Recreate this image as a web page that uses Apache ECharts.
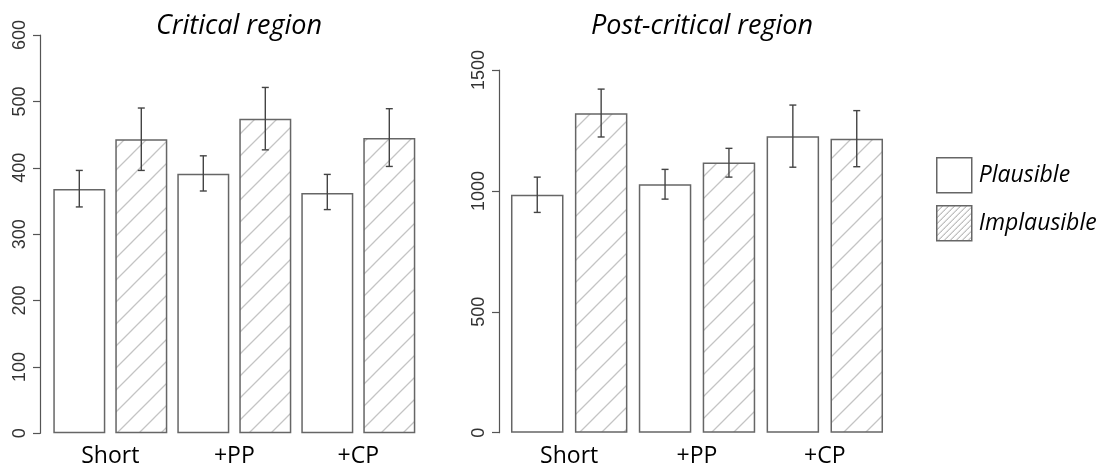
<!DOCTYPE html>
<html>
<head>
<meta charset="utf-8">
<script src="https://cdn.jsdelivr.net/npm/echarts@6/dist/echarts.min.js"></script>
<style>html,body{margin:0;padding:0;background:#fff;}#c{width:1105px;height:470px;}</style>
</head>
<body>
<div id="c"></div>
<script>
// ---- data ----
const categories = ['Short', '+PP', '+CP'];
const seriesNames = ['Plausible', 'Implausible'];
const panelTitles = ['Critical region', 'Post-critical region'];

const critPlausible = [368, 391, 362];
const critPlausibleLow = [341, 365, 337];
const critPlausibleHigh = [396, 418, 390];
const critImplausible = [443, 474, 445];
const critImplausibleLow = [396, 427, 402];
const critImplausibleHigh = [490, 521, 489];

const postPlausible = [984, 1027, 1226];
const postPlausibleLow = [911, 966, 1098];
const postPlausibleHigh = [1057, 1089, 1355];
const postImplausible = [1321, 1117, 1216];
const postImplausibleLow = [1223, 1057, 1100];
const postImplausibleHigh = [1421, 1176, 1332];

const critTicks = {min: 0, max: 600, interval: 100};
const postTicks = {min: 0, max: 1500, interval: 500};

// ---- patterns ----
function makeHatch(size, color, lw) {
  const cv = document.createElement('canvas');
  cv.width = size; cv.height = size;
  const ctx = cv.getContext('2d');
  ctx.fillStyle = '#fff';
  ctx.fillRect(0, 0, size, size);
  ctx.strokeStyle = color;
  ctx.lineWidth = lw;
  ctx.beginPath();
  ctx.moveTo(0, size); ctx.lineTo(size, 0);
  ctx.moveTo(-2, 2); ctx.lineTo(2, -2);
  ctx.moveTo(size - 2, size + 2); ctx.lineTo(size + 2, size - 2);
  ctx.stroke();
  return cv;
}
const barHatch = {image: makeHatch(22, '#c4c4c4', 1.3), repeat: 'repeat'};
const legendHatch = {image: makeHatch(6, '#9a9a9a', 1), repeat: 'repeat'};

const borderCol = '#666';
const axisCol = '#555';
const textFont = 'Open Sans';

function errData(lows, highs, sign) {
  return categories.map((c, i) => [i, lows[i], highs[i], sign]);
}

function errRender(params, api) {
  const i = api.value(0);
  const lo = api.coord([i, api.value(1)]);
  const hi = api.coord([i, api.value(2)]);
  const band = api.size([1, 0])[0];
  const x = lo[0] + api.value(3) * band / 4;
  const cap = 3.5;
  const st = {stroke: '#444', lineWidth: 1.4};
  return {
    type: 'group',
    children: [
      {type: 'line', shape: {x1: x, y1: lo[1], x2: x, y2: hi[1]}, style: st},
      {type: 'line', shape: {x1: x - cap, y1: lo[1], x2: x + cap, y2: lo[1]}, style: st},
      {type: 'line', shape: {x1: x - cap, y1: hi[1], x2: x + cap, y2: hi[1]}, style: st}
    ]
  };
}

function yAxis(idx, t, offset) {
  return {
    type: 'value', gridIndex: idx, min: t.min, max: t.max, interval: t.interval,
    offset: offset,
    axisLine: {show: true, lineStyle: {color: axisCol, width: 1.2}},
    axisTick: {show: true, length: 7, lineStyle: {color: axisCol, width: 1.2}},
    splitLine: {show: false},
    axisLabel: {rotate: 90, margin: 11, color: '#333', fontSize: 18, fontFamily: 'Liberation Sans',
                formatter: v => String(v)}
  };
}
function xAxis(idx) {
  return {
    type: 'category', gridIndex: idx, data: categories,
    axisLine: {show: false}, axisTick: {show: false},
    axisLabel: {margin: 12, color: '#000', fontSize: 23, fontFamily: textFont}
  };
}
function bar(name, data, idx, color, catGap, gap) {
  return {
    name: name, type: 'bar', xAxisIndex: idx, yAxisIndex: idx, data: data,
    barCategoryGap: catGap, barGap: gap,
    itemStyle: {color: color, borderColor: borderCol, borderWidth: 1.5},
    emphasis: {disabled: true}, silent: true
  };
}
function err(data, idx) {
  return {
    type: 'custom', xAxisIndex: idx, yAxisIndex: idx, data: data,
    renderItem: errRender, encode: {x: 0, y: [1, 2]}, silent: true, z: 5
  };
}

const titleStyle = {fontStyle: 'italic', fontWeight: 'normal', fontSize: 27, fontFamily: textFont, color: '#000'};
const chart = echarts.init(document.getElementById('c'), null, {renderer: 'canvas'});
chart.setOption({
  animation: false,
  backgroundColor: '#fff',
  title: [
    {text: panelTitles[0], left: 234, textAlign: 'center', top: 8, textStyle: titleStyle},
    {text: panelTitles[1], left: 697, textAlign: 'center', top: 8, textStyle: titleStyle}
  ],
  legend: {
    orient: 'vertical', left: 931, top: 152, itemWidth: 35, itemHeight: 35, itemGap: 11.5,
    icon: 'rect',
    textStyle: {fontStyle: 'italic', fontSize: 23, fontFamily: textFont, color: '#000', padding: [0, 0, 0, 2]},
    data: [
      {name: seriesNames[0], itemStyle: {color: '#fff', borderColor: borderCol, borderWidth: 1.5}},
      {name: seriesNames[1], itemStyle: {color: legendHatch, borderColor: borderCol, borderWidth: 1.5}}
    ]
  },
  grid: [
    {left: 48.3, width: 372, top: 35, bottom: 36.7},
    {left: 505.3, width: 383.4, top: 70, bottom: 37.3}
  ],
  xAxis: [xAxis(0), xAxis(1)],
  yAxis: [yAxis(0, critTicks, 8.3), yAxis(1, postTicks, 6.3)],
  series: [
    bar(seriesNames[0], critPlausible, 0, '#fff', '8.06%', '19.2%'),
    bar(seriesNames[1], critImplausible, 0, barHatch, '8.06%', '19.2%'),
    bar(seriesNames[0], postPlausible, 1, '#fff', '8.9%', '21.7%'),
    bar(seriesNames[1], postImplausible, 1, barHatch, '8.9%', '21.7%'),
    err(errData(critPlausibleLow, critPlausibleHigh, -1), 0),
    err(errData(critImplausibleLow, critImplausibleHigh, 1), 0),
    err(errData(postPlausibleLow, postPlausibleHigh, -1), 1),
    err(errData(postImplausibleLow, postImplausibleHigh, 1), 1)
  ]
});
</script>
</body>
</html>
